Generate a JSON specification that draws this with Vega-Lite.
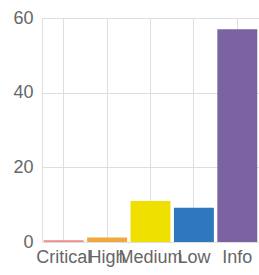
{
  "$schema": "https://vega.github.io/schema/vega-lite/v6.json",
  "width": 217,
  "height": 224,
  "autosize": {"type": "none"},
  "padding": {"left": 42, "top": 18, "right": 0, "bottom": 33},
  "background": "white",
  "data": {"values": [
    {"severity": "Critical", "count": 0.5},
    {"severity": "High", "count": 1.2},
    {"severity": "Medium", "count": 11},
    {"severity": "Low", "count": 9.2},
    {"severity": "Info", "count": 57}
  ]},
  "config": {"view": {"stroke": null}},
  "mark": {"type": "bar"},
  "encoding": {
    "x": {
      "field": "severity", "type": "nominal", "sort": null,
      "scale": {"paddingInner": 0.08, "paddingOuter": 0.04},
      "axis": {"title": null, "labelAngle": 0, "grid": true, "gridColor": "#dedede", "ticks": false,
        "domain": false, "labelFont": "Liberation Sans", "labelFontSize": 18, "labelColor": "#666",
        "labelPadding": 6, "labelOverlap": false}
    },
    "y": {
      "field": "count", "type": "quantitative",
      "scale": {"domain": [0, 60], "nice": false},
      "axis": {"title": null, "values": [0, 20, 40, 60], "grid": true, "gridColor": "#dedede", "ticks": false,
        "domain": true, "domainColor": "#dedede", "labelFont": "Liberation Sans", "labelFontSize": 18,
        "labelColor": "#666", "labelPadding": 9}
    },
    "color": {
      "field": "severity", "type": "nominal", "legend": null,
      "scale": {"domain": ["Critical", "High", "Medium", "Low", "Info"],
        "range": ["#ee8a8a", "#f0a840", "#f0e000", "#2e78bd", "#7b62a0"]}
    }
  }
}
